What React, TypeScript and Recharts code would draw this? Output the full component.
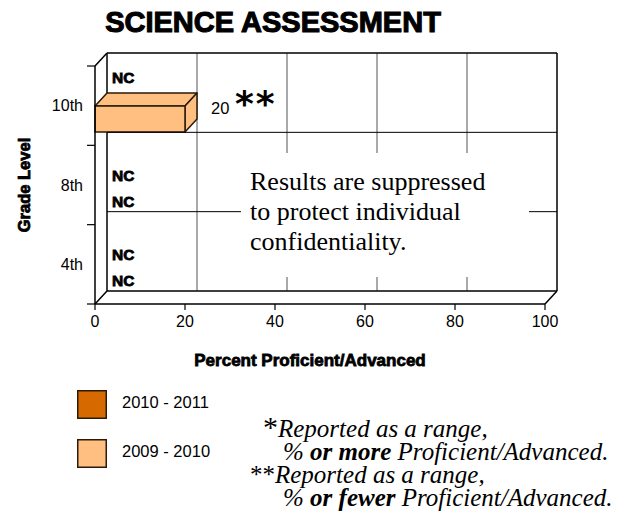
import { BarChart, Bar, XAxis, YAxis, CartesianGrid } from "recharts"

const grades = ["10th", "8th", "4th"]
const scores2011: (number | null)[] = [null, null, null]
const scores2010: (number | null)[] = [20, null, null]
const seriesNames = ["2010 - 2011", "2009 - 2010"]
const seriesColors = ["#D66A00", "#FFBF80"]
const percentTicks = [0, 20, 40, 60, 80, 100]
const suppressedLines = ["Results are suppressed", "to protect individual", "confidentiality."]

const data = grades.map((grade, i) => ({ grade, y2011: scores2011[i], y2010: scores2010[i] }))

const W = 612
const H = 511
const MARGIN = { top: 58, right: 75, bottom: 185, left: 27 }
const X_AXIS_H = 30
const Y_AXIS_W = 60
const PLOT_L = MARGIN.left + Y_AXIS_W
const PLOT_R = W - MARGIN.right
const PLOT_H = H - MARGIN.top - MARGIN.bottom - X_AXIS_H
const BAND = PLOT_H / grades.length
const DX = 12
const DY = 13
const SANS = "'Liberation Sans', Arial, Helvetica, sans-serif"
const SERIF = "'Liberation Serif', 'Times New Roman', serif"
const OUTLINE = "#2a1a0a"

// 3D box for a value, or "NC" when there is no score
function makeShape(key: "y2011" | "y2010", otherKey: "y2011" | "y2010", color: string) {
  return (props: any) => {
    const { x, y, width, height, payload } = props
    const v = payload[key]
    if (v == null) {
      const lift = payload[otherKey] != null ? -15.5 : 3
      const cy = y + height / 2 + lift
      return (
        <text x={x + 17} y={cy + 5.6} fontFamily={SANS} fontWeight="bold" fontSize={15.5}
          fill="#000" stroke="#000" strokeWidth={0.8}>NC</text>
      )
    }
    const w = width
    const top = `${x},${y} ${x + DX},${y - DY} ${x + w + DX},${y - DY} ${x + w},${y}`
    const side = `${x + w},${y} ${x + w + DX},${y - DY} ${x + w + DX},${y + height - DY} ${x + w},${y + height}`
    return (
      <g>
        <polygon points={top} fill={color} stroke={OUTLINE} strokeWidth={1.5} strokeLinejoin="round" />
        <polygon points={side} fill={color} stroke={OUTLINE} strokeWidth={1.5} strokeLinejoin="round" />
        <rect x={x} y={y} width={w} height={height} fill={color} stroke={OUTLINE} strokeWidth={1.5} />
        <text x={x + w + DX + 14} y={y + 8} fontFamily={SANS} fontSize={16.5} fill="#000">{v}</text>
        <text x={x + w + DX + 38} y={y + 10} fontFamily="'DejaVu Sans', sans-serif" fontWeight="bold"
          fontSize={36} letterSpacing={2} fill="#000">**</text>
      </g>
    )
  }
}

// grade label at the band centre, plus band-edge ticks and the back-wall lines
function GradeTick(props: any) {
  const { x, y, payload, index } = props
  const edges = [y - BAND / 2]
  if (index === grades.length - 1) edges.push(y + BAND / 2)
  return (
    <g>
      {edges.map((ey, k) => (
        <g key={k}>
          <line x1={PLOT_L + DX} x2={PLOT_R + DX} y1={ey - DY} y2={ey - DY} stroke="#000"
            strokeWidth={index === 0 || k === 1 ? 1.5 : 1} />
          <line x1={PLOT_L - 8} x2={PLOT_L} y1={ey} y2={ey} stroke="#000" strokeWidth={1.2} />
        </g>
      ))}
      <text x={x} y={y} dy="0.36em" textAnchor="end" fontFamily={SANS} fontSize={16} fill="#000">
        {payload.value}
      </text>
    </g>
  )
}

const verticalLine = (p: any) => {
  const { x1, y1, y2, index } = p
  const first = index === 0
  const last = index === percentTicks.length - 1
  return (
    <g key={`v-${index}`}>
      <line x1={x1 + DX} x2={x1 + DX} y1={y1 - DY} y2={y2 - DY}
        stroke={first || last ? "#000" : "#555"} strokeWidth={first || last ? 1.5 : 1} />
      {first && <line x1={x1} y1={y1} x2={x1 + DX} y2={y1 - DY} stroke="#000" strokeWidth={1.5} />}
      {(first || last) && <line x1={x1} y1={y2} x2={x1 + DX} y2={y2 - DY} stroke="#000" strokeWidth={1.5} />}
    </g>
  )
}

// titles, legend, notes -- drawn in page coordinates
function Overlay() {
  return (
    <svg width={628} height={527} style={{ position: "absolute", left: -8, top: -8, pointerEvents: "none" }}>
      <text x={273} y={32} textAnchor="middle" fontFamily={SANS} fontWeight="bold" fontSize={29}
        fill="#000" stroke="#000" strokeWidth={1.1}>SCIENCE ASSESSMENT</text>
      <text transform="translate(30,185) rotate(-90)" textAnchor="middle" fontFamily={SANS} fontWeight="bold"
        fontSize={16.5} fill="#000" stroke="#000" strokeWidth={0.8}>Grade Level</text>
      <text x={310} y={366} textAnchor="middle" fontFamily={SANS} fontWeight="bold" fontSize={17}
        fill="#000" stroke="#000" strokeWidth={0.8}>Percent Proficient/Advanced</text>

      <rect x={241} y={153} width={288} height={124} fill="#fff" />
      {suppressedLines.map((line, i) => (
        <text key={line} x={250} y={190 + i * 30} fontFamily={SERIF} fontSize={26} fill="#000">{line}</text>
      ))}

      {seriesNames.map((name, i) => (
        <g key={name}>
          <rect x={77.75} y={390.75 + i * 49} width={28.5} height={27.5} fill={seriesColors[i]}
            stroke={OUTLINE} strokeWidth={1.5} />
          <text x={122} y={408 + i * 49} fontFamily={SANS} fontSize={16.5} fill="#000">{name}</text>
        </g>
      ))}

      <g fontFamily={SERIF} fill="#000" fontSize={25} fontStyle="italic">
        <text x={263} y={437}>
          <tspan fontSize={30} fontStyle="normal">*</tspan>Reported as a range,
        </text>
        <text x={283} y={460}>
          % <tspan fontWeight="bold">or more</tspan> Proficient/Advanced.
        </text>
        <text x={250} y={483}>
          <tspan fontStyle="normal">**</tspan>Reported as a range,
        </text>
        <text x={283} y={506}>
          % <tspan fontWeight="bold">or fewer</tspan> Proficient/Advanced.
        </text>
      </g>
    </svg>
  )
}

export default function App() {
  return (
    <div style={{ position: "relative", width: W, height: H, background: "#fff" }}>
      <BarChart
        width={W}
        height={H}
        data={data}
        layout="vertical"
        barSize={26}
        barGap={0}
        margin={MARGIN}
      >
        <CartesianGrid horizontal={false} vertical={verticalLine} />
        <XAxis
          type="number"
          domain={[0, 100]}
          ticks={percentTicks}
          interval={0}
          height={X_AXIS_H}
          tickSize={6}
          tickMargin={6}
          tick={{ fill: "#000", fontSize: 16, fontFamily: SANS }}
          tickLine={{ stroke: "#000", strokeWidth: 1.2 }}
          axisLine={{ stroke: "#000", strokeWidth: 1.5 }}
        />
        <YAxis
          type="category"
          dataKey="grade"
          width={Y_AXIS_W}
          tickSize={0}
          tickMargin={12}
          tickLine={false}
          interval={0}
          tick={<GradeTick />}
          axisLine={{ stroke: "#000", strokeWidth: 1.5 }}
        />
        <Bar
          name={seriesNames[0]}
          dataKey={(d: any) => d.y2011 ?? 0}
          fill={seriesColors[0]}
          shape={makeShape("y2011", "y2010", seriesColors[0])}
          isAnimationActive={false}
        />
        <Bar
          name={seriesNames[1]}
          dataKey={(d: any) => d.y2010 ?? 0}
          fill={seriesColors[1]}
          shape={makeShape("y2010", "y2011", seriesColors[1])}
          isAnimationActive={false}
        />
      </BarChart>
      <Overlay />
    </div>
  )
}
